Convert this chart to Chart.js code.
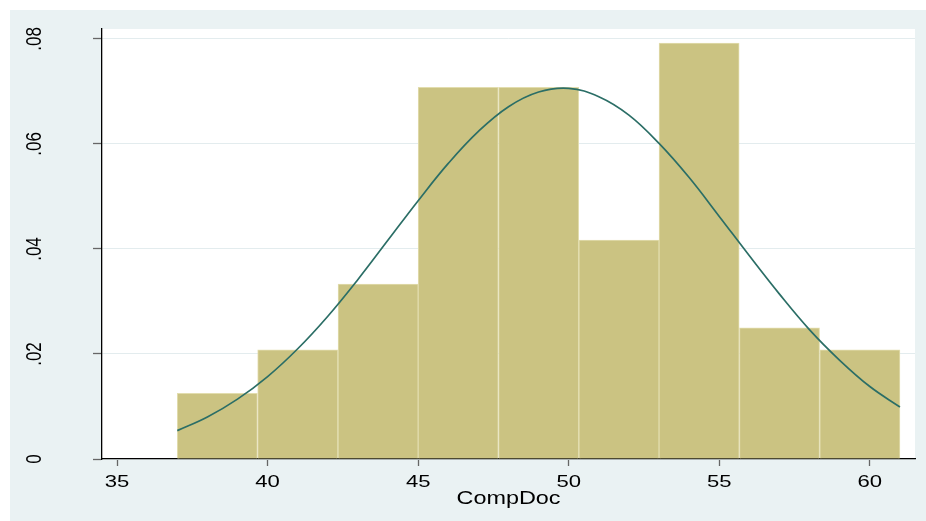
<!DOCTYPE html>
<html>
<head>
<meta charset="utf-8">
<script src="https://cdn.jsdelivr.net/npm/chart.js@4/dist/chart.umd.min.js"></script>
<style>
  body { margin: 0; background: #fff; }
</style>
</head>
<body>
<canvas id="hist" width="926" height="521"></canvas>
<script>
// histogram bins (centres) and density heights
var binCenters = [38.33, 41, 43.67, 46.33, 49, 51.67, 54.33, 57, 59.67];
var densities = [0.0125, 0.0208, 0.0333, 0.0708, 0.0708, 0.0417, 0.0792, 0.025, 0.0208];

// normal density overlay, read at each unit
var curveX = [37, 38, 39, 40, 41, 42, 43, 44, 45, 46, 47, 48, 49, 50, 51, 52, 53, 54, 55, 56, 57, 58, 59, 60, 61];
var curveY = [0.0054, 0.0080, 0.0114, 0.0157, 0.0210, 0.0272, 0.0342, 0.0417, 0.0492, 0.0563, 0.0624, 0.0671, 0.0699, 0.0706, 0.0690, 0.0655, 0.0601, 0.0536, 0.0462, 0.0387, 0.0314, 0.0246, 0.0188, 0.0138, 0.0099];

var xTicks = [35, 40, 45, 50, 55, 60];
var yTicks = [0, 0.02, 0.04, 0.06, 0.08];
var yTickLabels = ["0", ".02", ".04", ".06", ".08"];

var background = {
  id: 'background',
  beforeDraw: function(chart) {
    var c = chart.ctx, a = chart.chartArea;
    c.save();
    c.fillStyle = '#ffffff';
    c.fillRect(0, 0, chart.width, chart.height);
    c.fillStyle = '#EAF2F3';
    c.fillRect(10, 10, chart.width - 10, chart.height - 10);
    c.fillStyle = '#ffffff';
    c.fillRect(a.left, a.top, a.right - a.left, a.bottom - a.top);
    c.restore();
  }
};

// the original text is a bit wider than it is tall, stretch it sideways
var wideText = {
  id: 'wideText',
  beforeDraw: function(chart) {
    var c = chart.ctx;
    var orig = c.fillText;
    c._origFillText = orig;
    c.fillText = function(t, x, y, w) {
      var m = c.getTransform();
      var p = m.transformPoint(new DOMPoint(x, y));
      var s = new DOMMatrix().translate(p.x, p.y).scale(1.3, 1).translate(-p.x, -p.y).multiply(m);
      c.setTransform(s);
      orig.call(c, t, x, y, w);
      c.setTransform(m);
    };
  },
  afterDraw: function(chart) {
    var c = chart.ctx;
    if (c._origFillText) { c.fillText = c._origFillText; delete c._origFillText; }
  }
};

function noPad(s) {
  s.paddingTop = 0; s.paddingBottom = 0; s.paddingLeft = 0; s.paddingRight = 0;
}

new Chart(document.getElementById("hist"), {
  type: 'bar',
  data: {
    datasets: [
      {
        type: 'line',
        order: 0,
        data: curveX.map(function(x, i) { return {x: x, y: curveY[i]}; }),
        borderColor: '#2B6E66',
        borderWidth: 1.7,
        pointRadius: 0,
        tension: 0.4,
        fill: false
      },
      {
        type: 'bar',
        order: 1,
        data: binCenters.map(function(x, i) { return {x: x, y: densities[i]}; }),
        backgroundColor: '#CBC382',
        borderColor: '#E2DDAE',
        borderWidth: 1,
        barPercentage: 1,
        categoryPercentage: 1
      }
    ]
  },
  options: {
    responsive: false,
    animation: false,
    layout: { padding: { left: 10, top: 29, right: 11, bottom: 0 } },
    plugins: { legend: { display: false }, tooltip: { enabled: false } },
    scales: {
      x: {
        type: 'linear',
        min: 34.5,
        max: 61.5,
        offset: false,
        afterBuildTicks: function(s) { s.ticks = xTicks.map(function(v) { return {value: v}; }); },
        afterFit: function(s) { s.height = 62; noPad(s); },
        grid: { offset: false, drawOnChartArea: false, tickLength: 7, tickColor: '#666', tickWidth: 1.3 },
        border: { color: '#000', width: 1.3 },
        ticks: { color: '#000', padding: 6, maxRotation: 0, font: { family: 'Liberation Sans', size: 17 } },
        title: {
          display: true,
          text: 'CompDoc',
          color: '#000',
          padding: { top: 0, bottom: 11 },
          font: { family: 'Liberation Sans', size: 18 }
        }
      },
      y: {
        min: 0,
        max: 0.0819,
        afterBuildTicks: function(s) { s.ticks = yTicks.map(function(v) { return {value: v}; }); },
        afterFit: function(s) { s.width = 92; noPad(s); },
        grid: { color: '#E3ECEE', lineWidth: 1, tickLength: 9, tickColor: '#666', tickWidth: 1.3 },
        border: { color: '#000', width: 1.3 },
        ticks: {
          color: '#000',
          padding: 46,
          minRotation: 90,
          maxRotation: 90,
          crossAlign: 'center',
          font: { family: 'Liberation Sans', size: 17 },
          callback: function(v, i) { return yTickLabels[i]; }
        }
      }
    }
  },
  plugins: [background, wideText]
});
</script>
</body>
</html>
